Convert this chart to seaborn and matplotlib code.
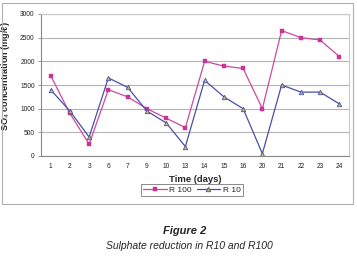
import matplotlib
matplotlib.use("Agg")
import matplotlib.pyplot as plt
import seaborn as sns
import pandas as pd
import numpy as np
from matplotlib.patches import Rectangle

days = ["1", "2", "3", "6", "7", "9", "10", "13", "14", "15", "16", "20", "21", "22", "23", "24"]
r100 = [1700, 900, 250, 1400, 1250, 1000, 800, 600, 2000, 1900, 1850, 1000, 2650, 2500, 2450, 2100]
r10 = [1400, 950, 400, 1650, 1450, 950, 700, 200, 1600, 1250, 1000, 50, 1500, 1350, 1350, 1100]
series_names = ["R 100", "R 10"]

sns.set_style("white")
plt.rcParams["font.family"] = ["Liberation Sans", "DejaVu Sans"]

df = pd.DataFrame({
    "pos": list(range(len(days))) * 2,
    "value": r100 + r10,
    "series": [series_names[0]] * len(days) + [series_names[1]] * len(days),
})

fig = plt.figure(figsize=(3.57, 2.56), dpi=100)
fig.patch.set_facecolor("white")
fig.add_artist(Rectangle((2 / 357, 1 - 204 / 256), 351 / 357, 201 / 256,
                         transform=fig.transFigure, fill=False,
                         edgecolor="#b0b0b0", linewidth=0.8))
ax = fig.add_axes([41 / 357, 1 - 156 / 256, 308 / 357, 142 / 256])

pal = {"R 100": "#cc4a9e", "R 10": "#4a4fa6"}
sns.lineplot(data=df, x="pos", y="value", hue="series", style="series",
             markers={"R 100": "s", "R 10": "^"}, dashes=False, palette=pal,
             linewidth=0.9, markersize=3.2, ax=ax, legend=True)
for line in ax.lines:
    if line.get_marker() == "^":
        line.set_markerfacecolor("#c8c060")
        line.set_markeredgecolor("#4a4fa6")
        line.set_markeredgewidth(0.6)
    elif line.get_marker() == "s":
        line.set_markeredgecolor("#cc3399")
        line.set_markerfacecolor("#cc3399")
        line.set_markeredgewidth(0.3)

ax.set_xlim(-0.5, len(days) - 0.5)
ax.set_ylim(0, 3000)
ax.set_yticks(range(0, 3001, 500))
ax.set_xticks(range(len(days)))
ax.set_xticklabels(days)
ax.set_xticks(np.arange(-0.5, len(days), 1), minor=True)
ax.tick_params(axis="x", which="major", length=0, labelsize=4.8, pad=5, colors="#222222")
ax.tick_params(axis="x", which="minor", length=2.5, width=0.6, color="#888888", direction="out")
ax.tick_params(axis="y", which="major", length=2.5, width=0.6, color="#888888",
               labelsize=4.8, pad=2, left=True, colors="#222222")
ax.tick_params(axis="y", which="major", color="#888888")
ax.grid(axis="y", color="#b4b4b4", linewidth=0.8)
ax.set_axisbelow(True)
for side in ["top", "right"]:
    ax.spines[side].set_color("#c8c8c8")
    ax.spines[side].set_linewidth(0.8)
for side in ["left", "bottom"]:
    ax.spines[side].set_color("#888888")
    ax.spines[side].set_linewidth(0.8)

ax.set_xlabel("Time (days)", fontsize=6.8, fontweight="bold", labelpad=4)
ax.set_ylabel("SO$_4$ concentration (mg/ℓ)", fontsize=6.5, fontweight="bold", labelpad=6)
ax.yaxis.set_label_coords(-0.095, 0.56)

leg = ax.legend(loc="upper center", bbox_to_anchor=(0.49, -0.2), ncol=2,
                fontsize=6, frameon=True, fancybox=False, edgecolor="#555555",
                handlelength=2.8, handletextpad=0.3, columnspacing=0.6,
                borderpad=0.25, borderaxespad=0)
leg.get_frame().set_linewidth(0.6)
for h in leg.legend_handles:
    if h.get_marker() == "^":
        h.set_markerfacecolor("#c8c060")
        h.set_markeredgecolor("#4a4fa6")

fig.text(185 / 357, 1 - 231 / 256, "Figure 2", ha="center", va="center",
         fontsize=8, fontweight="bold", fontstyle="italic")
fig.text(189 / 357, 1 - 246 / 256, "Sulphate reduction in R10 and R100", ha="center",
         va="center", fontsize=7.5, fontstyle="italic")

fig.savefig("out.png", dpi=100, facecolor="white")
